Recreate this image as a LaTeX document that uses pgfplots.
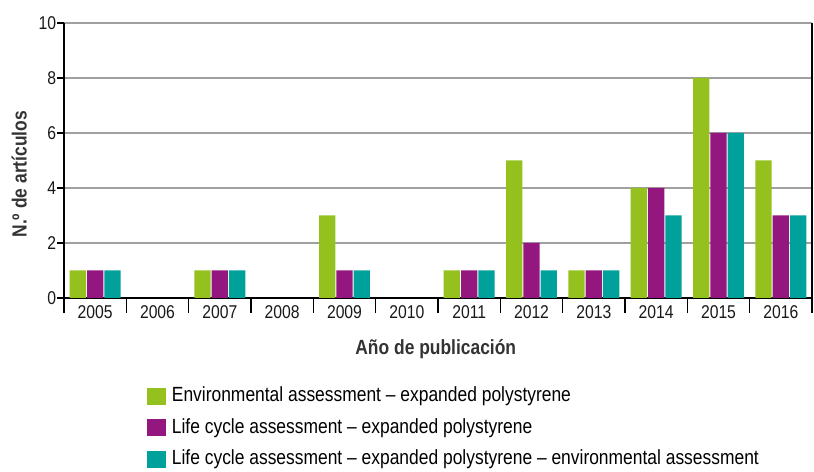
\documentclass[border=0pt]{standalone}
\usepackage{pgfplots}
\pgfplotsset{compat=1.18}
\usepackage{fontspec}
\setmainfont{Liberation Sans}[FakeStretch=0.85]
\definecolor{cgreen}{HTML}{95C11F}
\definecolor{cpurple}{HTML}{93177E}
\definecolor{cteal}{HTML}{00A19A}
\definecolor{cgrid}{HTML}{A0A0A0}
\begin{document}
\begin{tikzpicture}
\path[use as bounding box] (0,0) rectangle (814bp,472bp);
\begin{axis}[
  at={(64bp,174bp)}, anchor=south west,
  scale only axis, width=748bp, height=275bp,
  xmin=-0.5, xmax=11.5, ymin=0, ymax=10,
  axis x line*=bottom, axis y line*=box,
  axis line style={line width=1.6bp, black},
  ybar=1bp, bar width=16.3bp,
  xtick={-0.5,0.5,...,11.5},
  xticklabels={2005,2006,2007,2008,2009,2010,2011,2012,2013,2014,2015,2016},
  x tick label as interval,
  ytick={0,2,...,10}, ytick pos=left,
  tick align=outside,
  xtick style={/pgfplots/major tick length=15bp, line width=1.6bp, black},
  ytick style={/pgfplots/major tick length=6.5bp, line width=1.2bp, black},
  ymajorgrids, x grid style={draw=none},
  y grid style={cgrid, line width=1.1bp},
  /pgf/number format/assume math mode=true,
  tick label style={font=\fontsize{18.5bp}{22bp}\selectfont, text=black!90},
  xlabel={\bfseries Año de publicación},
  ylabel={\bfseries N.º de artículos},
  label style={font=\fontsize{20.5bp}{24bp}\selectfont, text=black!80},
  xlabel style={at={(axis description cs:0.497,-0.207)}, anchor=base},
  ylabel style={at={(axis description cs:-0.06,0.45)}, anchor=center, rotate=0},
  legend style={at={(axis description cs:0.111,-0.3236)}, anchor=north west,
    draw=none, fill=none, inner sep=0pt, row sep=13bp, column sep=6bp,
    font=\fontsize{20.5bp}{24bp}\selectfont,
    nodes={inner sep=0pt, text height=14.5bp, text depth=4bp}},
  legend cell align=left,
  legend image code/.code={\fill[#1] (0bp,-8.5bp) rectangle (18.7bp,8.5bp);},
]
\addplot[fill=cgreen, draw=none] coordinates {(0,1) (1,0) (2,1) (3,0) (4,3) (5,0) (6,1) (7,5) (8,1) (9,4) (10,8) (11,5)};
\addplot[fill=cpurple, draw=none] coordinates {(0,1) (1,0) (2,1) (3,0) (4,1) (5,0) (6,1) (7,2) (8,1) (9,4) (10,6) (11,3)};
\addplot[fill=cteal, draw=none] coordinates {(0,1) (1,0) (2,1) (3,0) (4,1) (5,0) (6,1) (7,1) (8,1) (9,3) (10,6) (11,3)};
\legend{Environmental assessment – expanded polystyrene,
Life cycle assessment – expanded polystyrene,
Life cycle assessment – expanded polystyrene – environmental assessment}
\end{axis}
\end{tikzpicture}
\end{document}
